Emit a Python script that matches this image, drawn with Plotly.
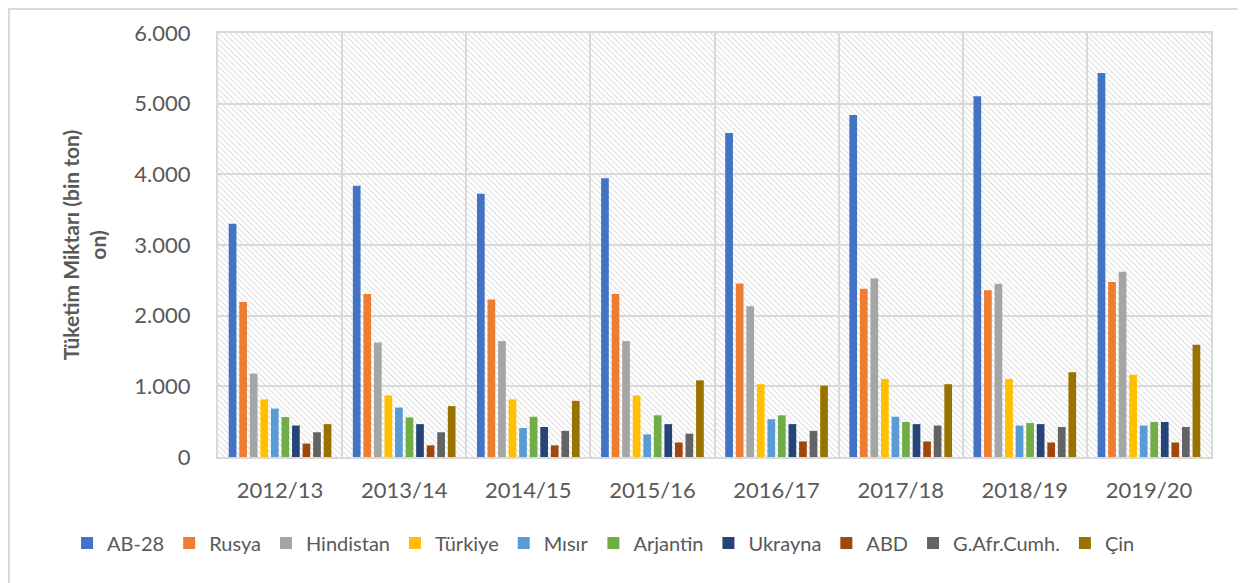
import base64

import plotly.graph_objects as go

# ── Data ──────────────────────────────────────────────────────────────────────
seasons = ["2012/13", "2013/14", "2014/15", "2015/16",
           "2016/17", "2017/18", "2018/19", "2019/20"]

ab28      = [3300, 3840, 3725, 3945, 4585, 4840, 5105, 5435]
rusya     = [2195, 2305, 2230, 2305, 2455, 2380, 2360, 2475]
hindistan = [1180, 1620, 1640, 1640, 2135, 2525, 2450, 2620]
turkiye   = [815, 870, 815, 870, 1030, 1105, 1105, 1165]
misir     = [685, 700, 410, 320, 535, 570, 445, 445]
arjantin  = [565, 560, 570, 590, 590, 495, 480, 495]
ukrayna   = [445, 465, 425, 465, 465, 465, 465, 495]
abd       = [190, 165, 165, 205, 220, 220, 205, 205]
gafr      = [350, 350, 370, 330, 370, 445, 425, 425]
cin       = [465, 720, 795, 1085, 1010, 1030, 1200, 1590]

series = [
    ("AB-28", ab28, "#4472C4"),
    ("Rusya", rusya, "#ED7D31"),
    ("Hindistan", hindistan, "#A5A5A5"),
    ("Türkiye", turkiye, "#FFC000"),
    ("Mısır", misir, "#5B9BD5"),
    ("Arjantin", arjantin, "#70AD47"),
    ("Ukrayna", ukrayna, "#264478"),
    ("ABD", abd, "#9E480E"),
    ("G.Afr.Cumh.", gafr, "#636363"),
    ("Çin", cin, "#997300"),
]

_GRID = "#D9D9D9"
_TEXT = "#595959"
_FONT = "Lato"

# page body has an 8px margin, so the figure is 8px smaller than the window
W, H = 1238, 575

# hatched plot background (Excel "light downward diagonal" fill)
_hatch_svg = (
    '<svg xmlns="http://www.w3.org/2000/svg" width="993" height="424" '
    'viewBox="0 0 993 424" preserveAspectRatio="none">'
    '<defs><pattern id="h" patternUnits="userSpaceOnUse" width="4" height="4" '
    'patternTransform="rotate(-45)">'
    '<line x1="0" y1="0" x2="0" y2="4" stroke="#D4D4D4" stroke-width="1.6"/>'
    '</pattern></defs>'
    '<rect width="993" height="424" fill="url(#h)"/></svg>'
)
_hatch_uri = "data:image/svg+xml;base64," + base64.b64encode(_hatch_svg.encode()).decode()

fig = go.Figure()
for name, vals, colour in series:
    fig.add_trace(go.Bar(
        name=name,
        x=seasons,
        y=vals,
        marker=dict(color=colour, line=dict(width=0)),
    ))

fig.update_layout(
    width=W,
    height=H,
    barmode="group",
    bargap=0.15,
    bargroupgap=0.27,
    separators=",.",
    paper_bgcolor="white",
    plot_bgcolor="rgba(0,0,0,0)",
    margin=dict(l=210, r=35, t=25, b=126, autoexpand=False),
    font=dict(family=_FONT, color=_TEXT, size=20),
    images=[dict(
        source=_hatch_uri,
        xref="paper", yref="paper",
        x=0, y=1, sizex=1, sizey=1,
        xanchor="left", yanchor="top",
        sizing="stretch", layer="below",
    )],
    xaxis=dict(
        automargin=False,
        tickson="boundaries",
        showgrid=True,
        gridcolor=_GRID,
        gridwidth=2,
        showline=True,
        mirror=True,
        linecolor=_GRID,
        linewidth=2,
        ticks="",
        ticklabelstandoff=13,
        tickfont=dict(size=22, color=_TEXT),
    ),
    yaxis=dict(
        automargin=False,
        range=[0, 6000],
        dtick=1000,
        tickformat=",",
        showgrid=True,
        gridcolor=_GRID,
        gridwidth=2,
        showline=True,
        mirror=True,
        linecolor=_GRID,
        linewidth=2,
        zeroline=False,
        ticks="",
        ticklabelstandoff=21,
        tickfont=dict(size=22, color=_TEXT),
        title=dict(
            text="<b>Tüketim Miktarı (bin ton)<br>on)</b>",
            font=dict(size=21, color=_TEXT),
            standoff=22,
        ),
    ),
    legend=dict(
        orientation="h",
        x=-0.152, xanchor="left",
        y=-0.203, yanchor="middle",
        font=dict(size=20, color=_TEXT),
        itemwidth=30,
        traceorder="normal",
    ),
    shapes=[dict(
        type="rect", xref="paper", yref="paper",
        x0=-0.2105, x1=1.0322, y0=-0.32, y1=1.0566,
        line=dict(color=_GRID, width=2),
        layer="below",
    )],
)

fig.write_html("out.html")
